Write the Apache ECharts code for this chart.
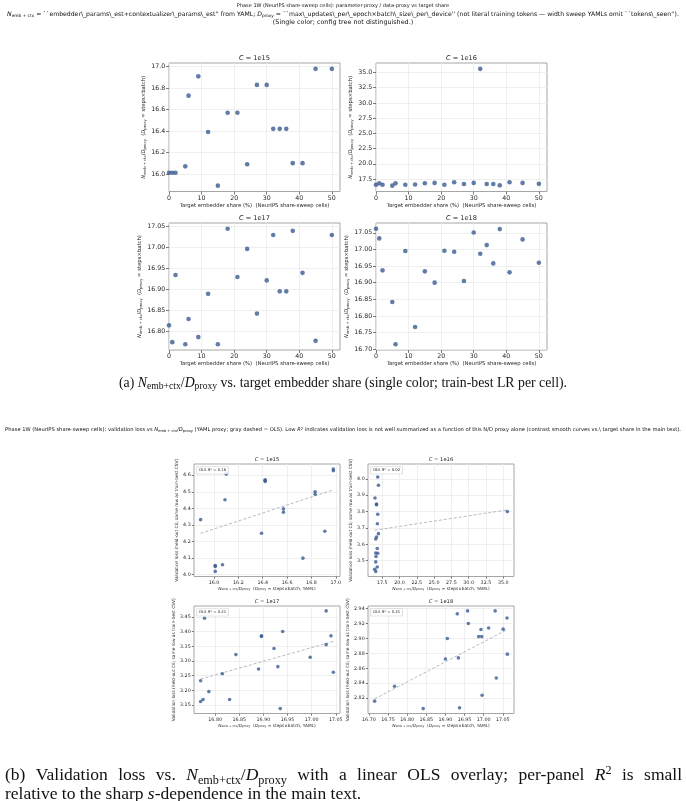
<!DOCTYPE html>
<html><head><meta charset="utf-8">
<script src="https://cdn.jsdelivr.net/npm/echarts@6/dist/echarts.min.js"></script>
<style>html,body{margin:0;padding:0;background:#fff}#c{width:686px;height:801px}</style>
</head><body><div id="c"></div>
<script>
// ---------------- DATA ----------------
const shares = [0, 1, 2, 5, 6, 9, 12, 15, 18, 21, 24, 27, 30, 32, 34, 36, 38, 41, 45, 50];
const computeLabels = ['1e15', '1e16', '1e17', '1e18'];
// N_emb+ctx / D_proxy per share cell
const ratio1e15 = [16.01, 16.01, 16.01, 16.07, 16.73, 16.91, 16.39, 15.89, 16.57, 16.57, 16.09, 16.83, 16.83, 16.42, 16.42, 16.42, 16.10, 16.10, 16.98, 16.98];
const ratio1e16 = [16.56, 16.78, 16.56, 16.40, 16.78, 16.56, 16.60, 16.80, 16.85, 16.56, 16.95, 16.67, 16.85, 35.60, 16.67, 16.67, 16.45, 16.95, 16.85, 16.70];
const ratio1e17 = [16.815, 16.775, 16.935, 16.770, 16.830, 16.787, 16.890, 16.770, 17.045, 16.930, 16.997, 16.843, 16.922, 17.030, 16.896, 16.896, 17.040, 16.940, 16.778, 17.030];
const ratio1e18 = [17.062, 17.033, 16.937, 16.842, 16.715, 16.995, 16.767, 16.934, 16.900, 16.996, 16.993, 16.905, 17.051, 16.987, 17.013, 16.958, 17.061, 16.931, 17.030, 16.960];
// validation loss per share cell
const loss1e15 = [4.055, 4.020, 4.050, 4.060, 4.100, 4.262, 4.250, 4.332, 4.397, 4.377, 4.452, 4.500, 4.485, 4.573, 4.563, 4.568, 4.610, 4.608, 4.637, 4.627];
const loss1e16 = [3.434, 3.461, 3.492, 3.447, 3.574, 3.547, 3.525, 3.726, 3.545, 3.632, 3.665, 3.644, 3.784, 3.800, 3.842, 3.846, 3.883, 3.961, 4.012, 4.060];
const loss1e17 = [3.257, 3.169, 3.138, 3.162, 3.169, 3.196, 3.273, 3.233, 3.262, 3.281, 3.313, 3.322, 3.343, 3.356, 3.386, 3.384, 3.386, 3.401, 3.446, 3.471];
const loss1e18 = [2.879, 2.847, 2.807, 2.806, 2.816, 2.9025, 2.836, 2.874, 2.8725, 2.824, 2.912, 2.900, 2.9125, 2.9025, 2.914, 2.937, 2.9275, 2.933, 2.937, 2.920];
const olsR2Labels = ['0.16', '0.02', '0.21', '0.31'];
// tick labels
const shareTicks = ['0', '10', '20', '30', '40', '50'];
const ticks1e15Ratio = ['16.0', '16.2', '16.4', '16.6', '16.8', '17.0'];
const ticks1e16Ratio = ['17.5', '20.0', '22.5', '25.0', '27.5', '30.0', '32.5', '35.0'];
const ticks1e17Ratio = ['16.80', '16.85', '16.90', '16.95', '17.00', '17.05'];
const ticks1e18Ratio = ['16.70', '16.75', '16.80', '16.85', '16.90', '16.95', '17.00', '17.05'];
const ticks1e15Loss = ['4.0', '4.1', '4.2', '4.3', '4.4', '4.5', '4.6'];
const ticks1e16Loss = ['3.5', '3.6', '3.7', '3.8', '3.9', '4.0'];
const ticks1e17Loss = ['3.15', '3.20', '3.25', '3.30', '3.35', '3.40', '3.45'];
const ticks1e18Loss = ['2.82', '2.84', '2.86', '2.88', '2.90', '2.92', '2.94'];

// ---------------- STYLE / LAYOUT ----------------
const SANS = 'DejaVu Sans', SERIF = 'Liberation Serif';
const DOT = '#3b5b92', TXT = '#262626', FRAME = '#a6a6a6', GRIDC = '#ebebeb';
const ratios = [ratio1e15, ratio1e16, ratio1e17, ratio1e18];
const losses = [loss1e15, loss1e16, loss1e17, loss1e18];
const ratioTicks = [ticks1e15Ratio, ticks1e16Ratio, ticks1e17Ratio, ticks1e18Ratio];
const lossTicks = [ticks1e15Loss, ticks1e16Loss, ticks1e17Loss, ticks1e18Loss];

const topBoxes = [
  {l: 169, t: 63, w: 171, h: 128.5}, {l: 376, t: 63, w: 171, h: 128.5},
  {l: 169, t: 223, w: 171, h: 127}, {l: 376, t: 223, w: 171, h: 127}];
const botBoxes = [
  {l: 194, t: 464, w: 146, h: 112.5}, {l: 368, t: 464, w: 146, h: 112.5},
  {l: 194, t: 606, w: 146, h: 107.5}, {l: 368, t: 606, w: 146, h: 107.5}];

function rich(fs, fam) {
  fam = fam || SANS;
  return {
    n: {fontSize: fs, fontFamily: fam, lineHeight: fs * 1.25},
    i: {fontSize: fs, fontFamily: fam, fontStyle: 'italic', lineHeight: fs * 1.25},
    s: {fontSize: fs * 0.7, fontFamily: fam, lineHeight: fs * 0.45, verticalAlign: 'bottom'},
    p: {fontSize: fs * 0.7, fontFamily: fam, lineHeight: fs * 0.45, verticalAlign: 'top'}
  };
}
function pad(arr) {
  const mn = Math.min(...arr), mx = Math.max(...arr), d = (mx - mn) * 0.05;
  return [mn - d, mx + d];
}
function fmtFrom(list) {
  return v => { const s = list.find(t => Math.abs(parseFloat(t) - v) < 1e-7); return s === undefined ? '' : s; };
}
const ND = '{i|N}{s|emb + ctx}{n|/}{i|D}{s|proxy}';

const grids = [], xAxes = [], yAxes = [], series = [], graphics = [];

function addPanel(box, xr, yr, xt, yt, fsTick, fsName, xName, yName, xGap, yGap, tickLen) {
  const idx = grids.length;
  grids.push({left: box.l, top: box.t, width: box.w, height: box.h, show: true,
    borderColor: FRAME, borderWidth: 1, backgroundColor: 'rgba(0,0,0,0)', containLabel: false, outerBoundsMode: 'none'});
  const mk = (range, ticks, name, gap) => ({
    gridIndex: idx, type: 'value', min: range[0], max: range[1],
    axisLine: {show: false},
    axisTick: {show: true, length: tickLen, lineStyle: {color: '#444', width: 0.7}, customValues: ticks.map(Number)},
    axisLabel: {show: true, customValues: ticks.map(Number), formatter: fmtFrom(ticks), fontSize: fsTick,
      fontFamily: SANS, color: TXT, margin: 2 + tickLen * 0.6},
    splitLine: {show: true, lineStyle: {color: GRIDC, width: 0.8}},
    name: name, nameLocation: 'middle', nameGap: gap,
    nameTextStyle: {fontSize: fsName, fontFamily: SANS, color: TXT, lineHeight: fsName * 1.25, rich: rich(fsName)}
  });
  xAxes.push(mk(xr, xt, xName, xGap));
  yAxes.push(mk(yr, yt, yName, yGap));
  return idx;
}
function panelTitle(box, label, fs, dy) {
  graphics.push({type: 'text', x: box.l + box.w / 2, y: box.t - dy, silent: true,
    style: {text: '{i|C}{n| = ' + label + '}', rich: rich(fs), fontSize: fs, fontFamily: SANS, fill: TXT,
      align: 'center', verticalAlign: 'middle'}});
}

// top figure panels
for (let k = 0; k < 4; k++) {
  const box = topBoxes[k];
  const yr = pad(ratios[k]);
  const xr = [0, pad(shares)[1]];
  const idx = addPanel(box, xr, yr, shareTicks, ratioTicks[k], 6.3, 5.3,
    'Target embedder share (%)  (NeurIPS share-sweep cells)',
    ND + '{n|  (}{i|D}{s|proxy}{n| = steps×batch)}', 9.5, 18.5, 3);
  series.push({type: 'scatter', xAxisIndex: idx, yAxisIndex: idx, symbolSize: 4.6,
    itemStyle: {color: DOT}, data: shares.map((s, j) => [s, ratios[k][j]]), z: 5});
  panelTitle(box, computeLabels[k], 6.6, 4.5);
}

// bottom figure panels
for (let k = 0; k < 4; k++) {
  const box = botBoxes[k];
  const xr = pad(ratios[k]), yr = pad(losses[k]);
  const idx = addPanel(box, xr, yr, ratioTicks[k], lossTicks[k], 4.8, 4.3,
    ND + '{n|  (}{i|D}{s|proxy}{n| = steps×batch, YAML)}',
    'Validation loss (held-out CE; same row as train-best CSV)', 8, 14, 2.2);
  // OLS fit from the data
  const xs = ratios[k], ys = losses[k], n = xs.length;
  const mx = xs.reduce((a, b) => a + b, 0) / n, my = ys.reduce((a, b) => a + b, 0) / n;
  let sxy = 0, sxx = 0;
  for (let j = 0; j < n; j++) { sxy += (xs[j] - mx) * (ys[j] - my); sxx += (xs[j] - mx) ** 2; }
  const b = sxy / sxx, a = my - b * mx;
  const x0 = Math.min(...xs), x1 = Math.max(...xs);
  series.push({type: 'line', xAxisIndex: idx, yAxisIndex: idx, symbol: 'none', silent: true,
    lineStyle: {color: '#a3a7ba', width: 0.8, type: [3, 2]}, data: [[x0, a + b * x0], [x1, a + b * x1]], z: 4});
  series.push({type: 'scatter', xAxisIndex: idx, yAxisIndex: idx, symbolSize: 3.6,
    itemStyle: {color: DOT}, data: xs.map((x, j) => [x, ys[j]]), z: 5});
  panelTitle(box, computeLabels[k], 5.2, 4);
  graphics.push({type: 'text', x: box.l + 3, y: box.t + 3, z: 10, silent: true,
    style: {text: 'OLS {i|R}{p|2} = ' + olsR2Labels[k], rich: rich(3.8), fontSize: 3.8, fontFamily: SANS, fill: TXT,
      align: 'left', verticalAlign: 'top', backgroundColor: 'rgba(255,255,255,0.85)', borderColor: '#cfcfcf',
      borderWidth: 0.6, padding: [1, 2, 1, 2]}});
}

// texts
function txt(x, y, text, fs, fam, align) {
  graphics.push({type: 'text', x: x, y: y, silent: true,
    style: {text: text, rich: rich(fs, fam), fontSize: fs, fontFamily: fam, fill: '#111', align: align, verticalAlign: 'middle'}});
}
txt(343, 5.5, '{n|Phase 1W (NeurIPS share-sweep cells): parameter-proxy / data-proxy vs target share}', 5.0, SANS, 'center');
txt(343, 14, "{i|N}{s|emb + ctx}{n| = ``embedder\\_params\\_est+contextualizer\\_params\\_est'' from YAML; }{i|D}{s|proxy}{n| = ``max\\_updates\\_per\\_epoch×batch\\_size\\_per\\_device'' (not literal training tokens — width sweep YAMLs omit ``tokens\\_seen'').}", 6.15, SANS, 'center');
txt(343, 22.5, '{n|(Single color; config tree not distinguished.)}', 6.4, SANS, 'center');
txt(343, 383, '{n|(a) }{i|N}{s|emb+ctx}{n|/}{i|D}{s|proxy}{n| vs. target embedder share (single color; train-best LR per cell).}', 13.8, SERIF, 'center');
txt(343, 430, "{n|Phase 1W (NeurIPS share-sweep cells): validation loss vs }{i|N}{s|emb + ctx}{n|/}{i|D}{s|proxy}{n| (YAML proxy; gray dashed = OLS). Low }{i|R}{p|2}{n| indicates validation loss is not well summarized as a function of this N/D proxy alone (contrast smooth curves vs.\\ target share in the main text).}", 5.2, SANS, 'center');

// caption (b): first line justified between x=5 and x=682
const CAPB = 17.5;
const capBWords = [
  [['n', '(b)']], [['n', 'Validation']], [['n', 'loss']], [['n', 'vs.']],
  [['i', 'N'], ['s', 'emb+ctx'], ['n', '/'], ['i', 'D'], ['s', 'proxy']],
  [['n', 'with']], [['n', 'a']], [['n', 'linear']], [['n', 'OLS']], [['n', 'overlay;']],
  [['n', 'per-panel']], [['i', 'R'], ['p', '2']], [['n', 'is']], [['n', 'small']]];
const mctx = document.createElement('canvas').getContext('2d');
function tokW(t) {
  const st = t[0], fs = (st === 's' || st === 'p') ? CAPB * 0.7 : CAPB;
  mctx.font = (st === 'i' ? 'italic ' : '') + fs + 'px "' + SERIF + '"';
  return mctx.measureText(t[1]).width;
}
const wordW = capBWords.map(w => w.reduce((s, t) => s + tokW(t), 0));
const gapB = (682 - 5 - wordW.reduce((a, b) => a + b, 0)) / (capBWords.length - 1);
let cx = 5;
capBWords.forEach((w, j) => {
  txt(cx, 775.5, w.map(t => '{' + t[0] + '|' + t[1] + '}').join(''), CAPB, SERIF, 'left');
  cx += wordW[j] + gapB;
});
txt(5, 794, '{n|relative to the sharp }{i|s}{n|-dependence in the main text.}', CAPB, SERIF, 'left');

const chart = echarts.init(document.getElementById('c'), null, {renderer: 'canvas'});
chart.setOption({
  animation: false, backgroundColor: '#fff',
  grid: grids, xAxis: xAxes, yAxis: yAxes, series: series, graphic: graphics
});
</script></body></html>
